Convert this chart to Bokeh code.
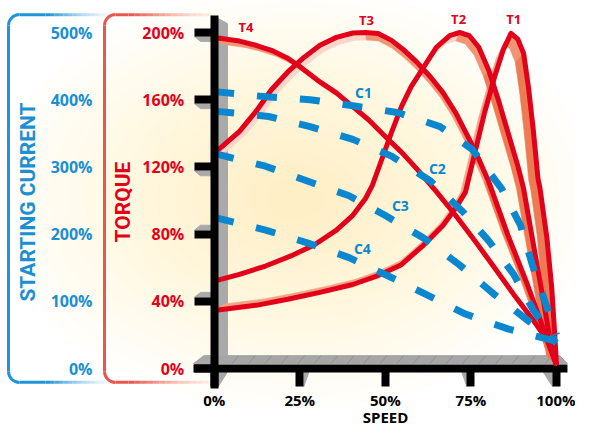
from math import pi
from bokeh.plotting import figure
from bokeh.models import Range1d, LinearAxis, FixedTicker
from bokeh.embed import file_html
from bokeh.resources import INLINE
from bokeh.core.properties import value

# ---------------- data ----------------
speed_ticks = [0, 25, 50, 75, 100]
speed_labels = ["0%", "25%", "50%", "75%", "100%"]
torque_ticks = [0, 40, 80, 120, 160, 200]
torque_labels = ["0%", "40%", "80%", "120%", "160%", "200%"]
current_ticks = [0, 100, 200, 300, 400, 500]
current_labels = ["0%", "100%", "200%", "300%", "400%", "500%"]

t1_speed = [0, 12.2, 21.5, 30.9, 40.5, 47.9, 54.7, 61.2, 66.9, 70.5, 73.4, 76.2, 79, 81.9, 84.4,
            86.7, 88.7, 90.4, 91.8, 93.2, 94.6, 95.2, 97.2, 98.6, 99.4, 100]
t1_torque = [34.5, 37.6, 41.2, 45.3, 50, 55.3, 61.8, 73.5, 85.3, 95.3, 105, 128.8, 152.4, 173.5, 189.4,
             199.5, 196, 187.6, 167.6, 142.4, 112.9, 107, 77.6, 48.2, 23, 2]

t2_speed = [0, 7.4, 15, 22.4, 29.2, 35.7, 40.5, 44.2, 46.2, 49, 51.8, 54.7, 57.5, 61.2, 64.9, 68.8,
            71.7, 74.5, 77.3, 80.2, 83, 85.8, 88.7, 90.4, 91.8, 93.8, 95.8, 97.5, 98.9, 100]
t2_torque = [52, 56, 61, 67, 73.5, 82.4, 91.2, 101.2, 109, 124.7, 140.6, 155.9, 167.6, 179.4, 191.2, 198.2,
             200, 198.2, 191.2, 177.6, 160, 140.6, 120.6, 107, 90.6, 67.6, 44.7, 24.7, 8.8, 2]

t3_speed = [0, 7.4, 12.2, 16.7, 21.5, 26.3, 30.9, 35.7, 40.5, 44.2, 47.9, 51.8, 55.5, 59.2, 63.2,
            66.9, 70.5, 74.5, 77.3, 80.2, 85.8, 91.5, 96, 98.9, 100]
t3_torque = [128, 141.2, 153, 165.9, 176.5, 185.3, 192.4, 197.1, 199.7, 200, 199.4, 195.3, 189.4, 182.4, 173.5,
             164.1, 152.4, 136.5, 124.7, 111.2, 79.4, 50, 24.7, 8.8, 2]

t4_speed = [0, 7.4, 12.2, 16.7, 21.5, 24.4, 30.9, 35.7, 40.5, 45.0, 49.9, 54.7, 59.2, 64.9, 70.5,
            76.2, 81.9, 87.5, 93.2, 97.2, 100]
t4_torque = [197, 194.9, 192.4, 189.4, 184.7, 180.6, 170.6, 164.1, 155.9, 148.2, 138.2, 128.8, 118.8, 105.3, 91.2,
             75.9, 60.0, 44.1, 28.8, 17.1, 2]

c1_speed = [0, 15.9, 28, 40.5, 53.5, 66, 75.4, 83.9, 89.5, 93.2, 97.5, 100]
c1_current = [412, 404, 400, 391, 381, 360, 326, 268, 213, 150, 87, 50]
c2_speed = [0, 15.9, 28, 40.5, 51.8, 63.2, 72.5, 80.2, 87.5, 93.2, 99.4]
c2_current = [383, 375, 360, 341, 316, 279, 234, 190, 140, 87, 43]
c3_speed = [0, 15, 27.2, 39.4, 49.9, 61.2, 71.7, 81.9, 91.5, 100]
c3_current = [320, 301, 279, 257, 228, 194, 154, 110, 72, 38]
c4_speed = [0, 15, 27.2, 39.4, 50.7, 62, 73.4, 85.8, 98, 99.5]
c4_current = [225, 206, 187, 165, 138, 110, 81, 59, 43, 41]

t_names = ["T1", "T2", "T3", "T4"]
t_label_speed = [87.5, 71.4, 44.5, 9.3]
t_label_torque = [208, 208, 207.6, 203.5]
c_names = ["C1", "C2", "C3", "C4"]
c_label_speed = [43.6, 65.2, 54.4, 43.3]
c_label_current = [410, 297, 243, 179]

# ---------------- geometry / style ----------------
W, H = 575, 427
PXS, PXT = 3.423, 1.68        # px per speed %, px per torque %
S0, T0 = 213.7, 368           # canvas position of speed 0 / torque 0
XA, XB = -S0 / PXS, (W - S0) / PXS
YB, YA = T0 / PXT, -(H - T0) / PXT
CUR = 2.5                     # current % per torque %


def rs(rx):  # reference plot pixel -> speed units (proportional)
    return (rx - 213.7) / 3.53


def lx(rx):  # reference pixel left of the plot -> speed units (1:1 pixels)
    return (rx - S0) / PXS


def rt(ry):  # reference pixel -> torque units
    return (372 - ry) / 1.7


RED = "#e2001a"
BLUE = "#0a87cf"
LBLUE = "#1b8fd2"
GRAY = "#a9a9a9"
FONT = "Open Sans"
AXFONT = "Roboto"

p = figure(width=W, height=H, output_backend="svg", toolbar_location=None,
           x_range=Range1d(XA, XB), y_range=Range1d(YA, YB),
           min_border_left=0, min_border_right=0, min_border_top=0, min_border_bottom=0)
p.extra_y_ranges = {"current": Range1d(YA * CUR, YB * CUR)}
p.outline_line_color = None
p.grid.visible = False
p.background_fill_color = "white"
p.border_fill_color = "white"

# background glow
n_glow = 16
gw = [600 - i * 36 for i in range(n_glow)]
p.ellipse(x=[rs(297)] * n_glow, y=[rt(200)] * n_glow, width=gw, height=[w * 0.7 for w in gw],
          width_units="screen", height_units="screen",
          fill_color="#fce08c", fill_alpha=0.033, line_color=None)


# brackets on the left
def mix(c0, c1, f):
    a = [int(c0[i:i + 2], 16) for i in (1, 3, 5)]
    b = [int(c1[i:i + 2], 16) for i in (1, 3, 5)]
    return "#%02x%02x%02x" % tuple(round(a[i] + (b[i] - a[i]) * f) for i in range(3))


def bracket(xl, xf0, xf1, c0, c1, top=14, bottom=386, r=11):
    p.segment(x0=[lx(xl)], y0=[rt(top + r)], x1=[lx(xl)], y1=[rt(bottom - r)],
              line_color=c0, line_width=3)
    p.arc(x=[lx(xl + r)] * 2, y=[rt(top + r), rt(bottom - r)], radius=r, radius_units="screen",
          start_angle=[pi / 2, pi], end_angle=[pi, 3 * pi / 2], line_color=c0, line_width=3)
    n = 14
    x0s, x1s, y0s, cols, alph = [], [], [], [], []
    for yy in (top, bottom):
        x0s.append(lx(xl + r)); x1s.append(lx(xf0)); y0s.append(rt(yy)); cols.append(c0); alph.append(1.0)
        for i in range(n):
            f = i / n
            x0s.append(lx(xf0 + (xf1 - xf0) * f))
            x1s.append(lx(xf0 + (xf1 - xf0) * (i + 1) / n))
            y0s.append(rt(yy))
            cols.append(mix(c0, c1, f))
            alph.append(1.0 - 0.9 * f)
    p.segment(x0=x0s, y0=y0s, x1=x1s, y1=y0s, line_color=cols, line_alpha=alph, line_width=3)


bracket(8, 45, 108, "#1e95d7", "#9fcdee")
bracket(104, 128, 214, "#e8564d", "#f7b79e")

# 3D floor and wall
p.patch([lx(193), rs(203), rs(570), rs(578)], [rt(367), rt(359), rt(359), rt(367)], color="#a6a6a6")
p.segment(x0=[rs(x) for x in range(232, 566, 17)], y0=[rt(367)] * 20,
          x1=[rs(x + 7) for x in range(232, 566, 17)], y1=[rt(359)] * 20,
          line_color="#8a8a8a", line_width=0.8)
p.patch([lx(218), lx(227), lx(227), lx(218)], [rt(18), rt(23), rt(359), rt(359)], color=GRAY)

# tick bevels
for t in torque_ticks:
    ry = 372 - 1.7 * t
    sgn = 1 if t >= 120 else -1
    p.patch([lx(194), lx(210), lx(210), lx(200)],
            [rt(ry + sgn * 4), rt(ry + sgn * 4), rt(ry + sgn * 9), rt(ry + sgn * 9)], color=GRAY)
for s in speed_ticks:
    if s == 50:
        continue
    side = 1 if s < 50 else -1
    w = 9 if s in (0, 100) else 5
    p.patch([s + side * 4 / PXS, s + side * (4 + w) / PXS, s + side * 4 / PXS],
            [-4 / PXT, -4 / PXT, -18 / PXT], color=GRAY)

# x axis line (the y axis line is drawn by the axis itself)
p.segment(x0=[lx(193)], y0=[0], x1=[rs(578)], y1=[0], line_color="black", line_width=8)

# torque curves with 3D ribbon (depth toward a vanishing point)
VS, VT = 50, 100
curves = [(t1_speed, t1_torque, 0.94), (t2_speed, t2_torque, 0.95),
          (t3_speed, t3_torque, 0.955), (t4_speed, t4_torque, 0.96)]
rx_l, ry_l, rc_l = [], [], []
for xs, ys, K in curves:
    bx = [VS + (x - VS) * K for x in xs]
    by = [VT + (y - VT) * K for y in ys]
    for i in range(len(xs) - 1):
        dxp = (xs[i + 1] - xs[i]) * PXS
        dyp = (ys[i + 1] - ys[i]) * PXT
        ox = (bx[i] - xs[i]) * PXS
        oy = (by[i] - ys[i]) * PXT
        cross = dxp * oy - dyp * ox
        if cross > 0:
            col = "#f3a286"
        elif dyp > 0:
            col = "#fad6ca"
        elif abs(dyp) > 2.5 * abs(dxp):
            col = "#ec7a52"
        else:
            col = "#f09474"
        rx_l.append([xs[i], xs[i + 1], bx[i + 1], bx[i]])
        ry_l.append([ys[i], ys[i + 1], by[i + 1], by[i]])
        rc_l.append(col)
p.patches(rx_l, ry_l, fill_color=rc_l, line_color=rc_l, line_width=0.6)
for xs, ys, K in curves:
    p.line(xs, ys, line_color=RED, line_width=5, line_join="round")

# current curves
for xs, ys in [(c1_speed, c1_current), (c2_speed, c2_current),
               (c3_speed, c3_current), (c4_speed, c4_current)]:
    p.line(xs, ys, y_range_name="current", line_color=BLUE, line_width=7,
           line_dash="20 23", line_cap="butt", line_join="round")

p.text(t_label_speed, t_label_torque, text=t_names, text_color=RED,
       text_font=value(FONT), text_font_style="bold", text_font_size="13px",
       text_align="center", text_baseline="middle")
p.text(c_label_speed, c_label_current, text=c_names, y_range_name="current", text_color=BLUE,
       text_font=value(FONT), text_font_style="bold", text_font_size="14px",
       text_align="center", text_baseline="middle")

# x axis
xa = p.xaxis[0]
xa.fixed_location = 0
xa.bounds = (0, 100)
xa.ticker = FixedTicker(ticks=speed_ticks)
xa.major_label_overrides = {k: v for k, v in zip(speed_ticks, speed_labels)}
xa.axis_line_color = None
xa.major_tick_in = 0
xa.major_tick_out = 18
xa.major_tick_line_width = 8
xa.major_tick_line_color = "black"
xa.minor_tick_line_color = None
xa.major_label_standoff = 3
xa.major_label_text_font = FONT
xa.major_label_text_font_style = "bold"
xa.major_label_text_font_size = "15px"
xa.major_label_text_color = "black"
xa.axis_label = "SPEED"
xa.axis_label_standoff = -6
xa.axis_label_text_font = FONT
xa.axis_label_text_font_style = "bold"
xa.axis_label_text_font_size = "15px"
xa.axis_label_text_color = "black"

# torque axis
ya = p.yaxis[0]
ya.fixed_location = 0
ya.bounds = (rt(392), rt(15))
ya.ticker = FixedTicker(ticks=torque_ticks)
ya.major_label_overrides = {k: v for k, v in zip(torque_ticks, torque_labels)}
ya.axis_line_color = "black"
ya.axis_line_width = 8
ya.major_tick_in = 0
ya.major_tick_out = 20
ya.major_tick_line_width = 8
ya.major_tick_line_color = "black"
ya.minor_tick_line_color = None
ya.major_label_standoff = 10
ya.major_label_text_font = FONT
ya.major_label_text_font_style = "bold"
ya.major_label_text_font_size = "16px"
ya.major_label_text_color = RED
ya.axis_label = "TORQUE"
ya.axis_label_standoff = 5
ya.axis_label_text_font = AXFONT
ya.axis_label_text_font_style = "bold"
ya.axis_label_text_font_size = "21px"
ya.axis_label_text_color = RED

# current axis
ca = LinearAxis(y_range_name="current", ticker=FixedTicker(ticks=current_ticks))
ca.fixed_location = lx(96)
ca.bounds = (rt(392) * CUR, rt(15) * CUR)
ca.major_label_overrides = {k: v for k, v in zip(current_ticks, current_labels)}
ca.axis_line_color = None
ca.major_tick_in = 0
ca.major_tick_out = 0
ca.major_tick_line_color = None
ca.minor_tick_line_color = None
ca.major_label_standoff = 4
ca.major_label_text_font = FONT
ca.major_label_text_font_style = "bold"
ca.major_label_text_font_size = "16px"
ca.major_label_text_color = LBLUE
ca.axis_label = "STARTING CURRENT"
ca.axis_label_standoff = 8
ca.axis_label_text_font = AXFONT
ca.axis_label_text_font_style = "bold"
ca.axis_label_text_font_size = "21px"
ca.axis_label_text_color = LBLUE
p.add_layout(ca, "left")

open("out.html", "w").write(file_html(p, INLINE))
